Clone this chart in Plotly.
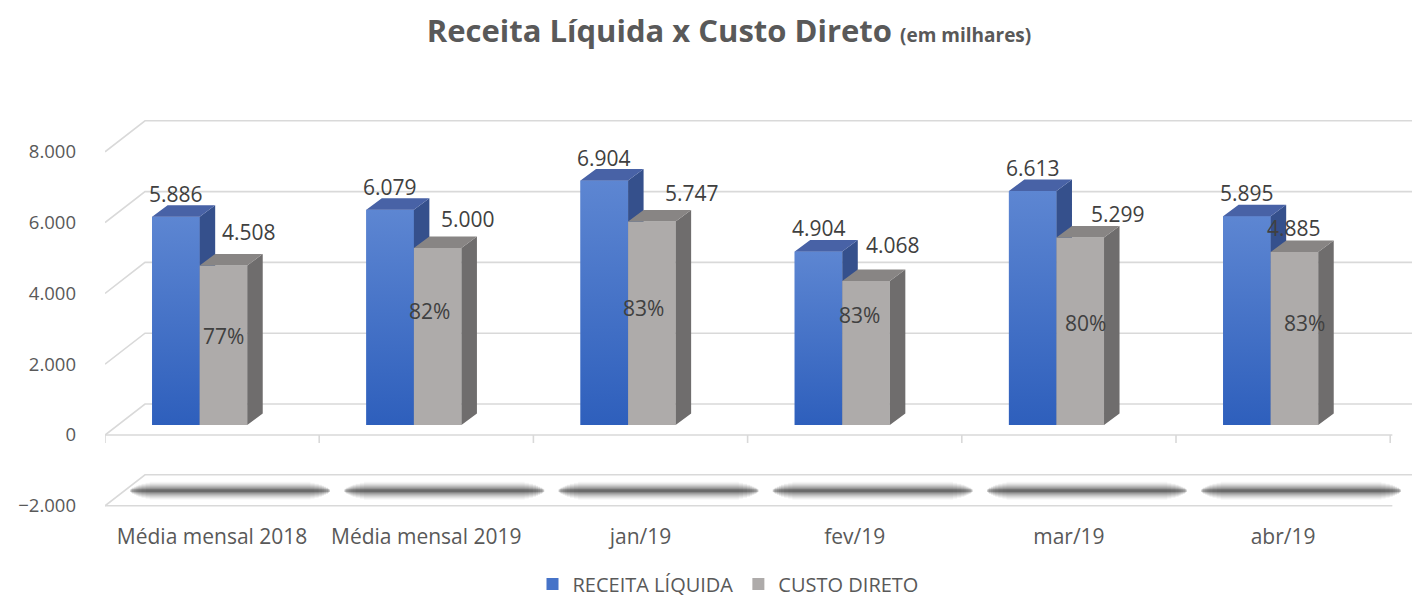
import plotly.graph_objects as go

# ---------------- data ----------------
categories = ["Média mensal 2018", "Média mensal 2019", "jan/19", "fev/19", "mar/19", "abr/19"]
receita = [5886, 6079, 6904, 4904, 6613, 5895]
custo = [4508, 5000, 5747, 4068, 5299, 4885]
y_ticks = [-2000, 0, 2000, 4000, 6000, 8000]
series_names = ["RECEITA LÍQUIDA", "CUSTO DIRETO"]

# ---------------- styling / layout constants ----------------
custo_label_shift = [(26, 33), (30, 29), (40, 29), (27, 36), (38, 23), (0, 24)]   # px
pct_label_shift = [(0, 9), (-8, 26), (-8, 15), (-7, 38), (5, 8), (10, 16)]         # px
blue_label_up = 23

W, H = 1412, 601
L, R, T, B = 105, 0, 100, 81
PX_X = 214.2          # px per category
PX_Y = 0.0354         # px per unit
Y0_PIX = 435          # pixel of value 0 on front plane
BAR_LIFT_PX = 10      # bars sit slightly behind the front plane

BW = 0.222
BLUE_OFF = -0.28
GRAY_OFF = BLUE_OFF + BW
DX = 15.5 / PX_X
DY = 11.5 / PX_Y
BX = 40 / PX_X
BY = 31 / PX_Y

x_max = -0.5 + (W - L - R) / PX_X
y_range = [(Y0_PIX - (H - B)) / PX_Y, (Y0_PIX - T) / PX_Y]
lift = BAR_LIFT_PX / PX_Y
y2_range = [y_range[0] - lift, y_range[1] - lift]

TXT = "#595959"
LBL = "#404040"
GRID = "#d9d9d9"
FONT = "Open Sans"

BLUE = "#4673c8"
BLUE_TOP_C = "#5d86d2"
BLUE_BOT_C = "#2e5fbc"
BLUE_SIDE = "#35508c"
BLUE_TOPF = "#4862a6"
GRAY = "#aeabaa"
GRAY_SIDE = "#6f6d6d"
GRAY_TOPF = "#888584"

n = len(categories)
fig = go.Figure()

# ---------------- walls / gridlines (y) ----------------
gx, gy = [], []
for v in y_ticks:
    gx += [-0.5, -0.5 + BX, x_max + 0.2, None]
    gy += [v, v + BY, v + BY, None]
for v in (0, -2000):
    gx += [-0.5, n - 0.5 + 0.01, None]
    gy += [v, v, None]
for k in range(n + 1):
    gx += [k - 0.5, k - 0.5, None]
    gy += [0, -8 / PX_Y, None]
fig.add_trace(go.Scatter(x=gx, y=gy, mode="lines", line=dict(color=GRID, width=1.6),
                         hoverinfo="skip", showlegend=False, yaxis="y"))

# soft shadow blobs on the lower plane
layers = [(18, 0.035, 0.78), (16, 0.045, 0.82), (14, 0.06, 0.86), (12, 0.075, 0.89),
          (10, 0.09, 0.91), (8, 0.11, 0.93), (6, 0.14, 0.95), (4, 0.18, 0.96), (2.5, 0.22, 0.97)]
for width, alpha, frac in layers:
    sx, sy = [], []
    for k in range(n):
        c = k + 18 / PX_X
        hw = 103 / PX_X * frac
        sx += [c - hw, c + hw, None]
        sy += [-2000 + 15 / PX_Y] * 2 + [None]
    fig.add_trace(go.Scatter(x=sx, y=sy, mode="lines",
                             line=dict(color=f"rgba(25,25,25,{alpha})", width=width),
                             hoverinfo="skip", showlegend=False, yaxis="y"))

# ---------------- bars ----------------
def faces(off, vals):
    sx, sy, tx, ty = [], [], [], []
    for k, v in enumerate(vals):
        x0 = k + off
        x1 = x0 + BW
        sx += [x1, x1 + DX, x1 + DX, x1, x1, None]
        sy += [0, DY, v + DY, v, 0, None]
        tx += [x0, x0 + DX, x1 + DX, x1, x0, None]
        ty += [v, v + DY, v + DY, v, v, None]
    return sx, sy, tx, ty

x_idx = list(range(n))

fig.add_trace(go.Bar(x=x_idx, y=receita, name=series_names[0], width=BW, offset=BLUE_OFF,
                     marker=dict(color=BLUE, line=dict(width=0)), yaxis="y2"))
for k, v in enumerate(receita):
    x0 = k + BLUE_OFF
    fig.add_trace(go.Scatter(x=[x0, x0 + BW, x0 + BW, x0, x0], y=[0, 0, v, v, 0],
                             mode="lines", line=dict(width=0), fill="toself",
                             fillgradient=dict(type="vertical",
                                               colorscale=[[0, BLUE_BOT_C], [1, BLUE_TOP_C]]),
                             hoverinfo="skip", showlegend=False, yaxis="y2"))
sx, sy, tx, ty = faces(BLUE_OFF, receita)
fig.add_trace(go.Scatter(x=sx, y=sy, mode="lines", line=dict(width=0), fill="toself",
                         fillcolor=BLUE_SIDE, hoverinfo="skip", showlegend=False, yaxis="y2"))
fig.add_trace(go.Scatter(x=tx, y=ty, mode="lines", line=dict(width=0), fill="toself",
                         fillcolor=BLUE_TOPF, hoverinfo="skip", showlegend=False, yaxis="y2"))

fig.add_trace(go.Bar(x=x_idx, y=custo, name=series_names[1], width=BW, offset=GRAY_OFF,
                     marker=dict(color=GRAY, line=dict(width=0)), yaxis="y3"))
sx, sy, tx, ty = faces(GRAY_OFF, custo)
fig.add_trace(go.Scatter(x=sx, y=sy, mode="lines", line=dict(width=0), fill="toself",
                         fillcolor=GRAY_SIDE, hoverinfo="skip", showlegend=False, yaxis="y3"))
fig.add_trace(go.Scatter(x=tx, y=ty, mode="lines", line=dict(width=0), fill="toself",
                         fillcolor=GRAY_TOPF, hoverinfo="skip", showlegend=False, yaxis="y3"))

# ---------------- labels ----------------
def fmt(v):
    return f"{v:,}".replace(",", ".")

LFS = 21
ann = []
for k in range(n):
    ann.append(dict(x=k + BLUE_OFF + BW / 2, y=receita[k], xref="x", yref="y2",
                    text=fmt(receita[k]), showarrow=False, yshift=blue_label_up,
                    font=dict(size=LFS, color=LBL, family=FONT)))
    dx, dy = custo_label_shift[k]
    ann.append(dict(x=k + GRAY_OFF + BW / 2, y=custo[k], xref="x", yref="y3",
                    text=fmt(custo[k]), showarrow=False, xshift=dx, yshift=dy,
                    font=dict(size=LFS, color=LBL, family=FONT)))
    dx, dy = pct_label_shift[k]
    ann.append(dict(x=k + GRAY_OFF + BW / 2, y=custo[k] / 2, xref="x", yref="y3",
                    text=f"{round(100 * custo[k] / receita[k])}%", showarrow=False,
                    xshift=dx, yshift=dy,
                    font=dict(size=LFS, color=LBL, family=FONT)))

fig.update_layout(
    width=W, height=H,
    margin=dict(l=L, r=R, t=T, b=B, autoexpand=False),
    paper_bgcolor="white", plot_bgcolor="white",
    separators=",.",
    font=dict(family=FONT, color=TXT),
    title=dict(
        text="<b>Receita Líquida x Custo Direto</b> <span style='font-size:19px'><b>(em milhares)</b></span>",
        x=729 / W, xref="container", xanchor="center",
        y=1 - 31 / H, yref="container", yanchor="middle",
        font=dict(size=31, color=TXT, family=FONT)),
    barmode="overlay",
    xaxis=dict(range=[-0.5, x_max], tickvals=x_idx, ticktext=categories,
               showgrid=False, zeroline=False, showline=False, ticks="",
               tickfont=dict(size=21, color=TXT), ticklabelstandoff=2, fixedrange=True,
               automargin=False),
    yaxis=dict(range=y_range, tickvals=y_ticks, tickformat=",d",
               showgrid=False, zeroline=False, showline=False, ticks="",
               tickfont=dict(size=18.5, color=TXT), ticklabelstandoff=28, automargin=False),
    yaxis2=dict(range=y2_range, overlaying="y", visible=False),
    yaxis3=dict(range=y2_range, overlaying="y", visible=False),
    legend=dict(orientation="h", x=728 / W, xref="container", xanchor="center",
                y=1 - 584 / H, yref="container", yanchor="middle",
                font=dict(size=20, color=TXT, family=FONT), traceorder="normal"),
    annotations=ann,
    showlegend=True,
)

fig.write_html("out.html", config={"displayModeBar": False},
               post_script="document.body.style.margin='0';")
